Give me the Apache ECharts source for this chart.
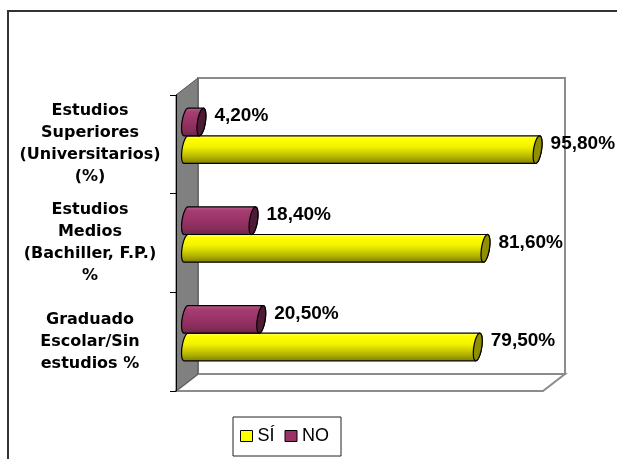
<!DOCTYPE html>
<html>
<head>
<meta charset="utf-8">
<script src="https://cdn.jsdelivr.net/npm/echarts@6/dist/echarts.min.js"></script>
<style>
    html, body { margin: 0; padding: 0; background: #fff; }
    #chart { width: 617px; height: 459px; }
</style>
</head>
<body>
<div id="chart"></div>
<script>
// categorías, de abajo hacia arriba
const categorias = [
    'Graduado\nEscolar/Sin\nestudios %',
    'Estudios\nMedios\n(Bachiller, F.P.)\n%',
    'Estudios\nSuperiores\n(Universitarios)\n(%)'
];
const valoresSi = [79.5, 81.6, 95.8];
const valoresNo = [20.5, 18.4, 4.2];
const nombresSeries = ['SÍ', 'NO'];

// plano frontal del gráfico y profundidad del efecto 3D (estilo Excel)
const PLOT = { left: 176, top: 95, width: 367, height: 296 };
const DEPTH = { x: 22, y: -17 };
const SHIFT = { x: 10, y: -8.5 };

const PALETA = {
    'SÍ': {
        base: '#ffff00',
        cap: '#8f8f00',
        body: [[0, '#ffff8c'], [0.12, '#ffff00'], [0.4, '#f2f200'], [0.55, '#d9d900'], [0.75, '#b5b500'], [1, '#7d7d00']]
    },
    'NO': {
        base: '#993366',
        cap: '#4f1a35',
        body: [[0, '#c0608f'], [0.15, '#a63d73'], [0.5, '#993366'], [0.8, '#842c58'], [1, '#6b2447']]
    }
};

function elipse(cx, cy, rx, ry, sk, t0, t1, n) {
    let pts = [];
    for (let i = 0; i <= n; i++) {
        let t = t0 + (t1 - t0) * i / n;
        pts.push([cx + rx * Math.cos(t) - sk * Math.sin(t), cy + ry * Math.sin(t)]);
    }
    return pts;
}

function etiqueta(v) {
    return v.toFixed(2).replace('.', ',') + '%';
}

function crearRender(nombre, arriba) {
    let pal = PALETA[nombre];
    return function (params, api) {
        let cat = api.value(0);
        let val = api.value(1);
        let p0 = api.coord([0, cat]);
        let p1 = api.coord([val, cat]);
        let banda = api.size([0, 1])[1];
        let h = banda * 0.28;
        let cy = p0[1] + SHIFT.y + (arriba ? -h / 2 : h / 2);
        let x0 = p0[0] + SHIFT.x;
        let x1 = p1[0] + SHIFT.x;
        let rx = 4, ry = h / 2, sk = 2;

        // cuerpo: mitad izquierda del extremo inicial + mitad derecha del final
        let cuerpo = elipse(x0, cy, rx, ry, sk, Math.PI / 2, Math.PI * 1.5, 16)
            .concat(elipse(x1, cy, rx, ry, sk, -Math.PI / 2, Math.PI / 2, 16));
        let tapa = elipse(x1, cy, rx, ry, sk, 0, Math.PI * 2, 32);

        return {
            type: 'group',
            children: [
                {
                    type: 'polygon',
                    shape: { points: cuerpo },
                    style: {
                        fill: new echarts.graphic.LinearGradient(0, 0, 0, 1,
                            pal.body.map(s => ({ offset: s[0], color: s[1] }))),
                        stroke: '#000',
                        lineWidth: 1.2
                    }
                },
                {
                    type: 'polygon',
                    shape: { points: tapa },
                    style: { fill: pal.cap, stroke: '#000', lineWidth: 1.2 }
                },
                {
                    type: 'text',
                    x: x1 + 13,
                    y: cy - 6,
                    style: {
                        text: etiqueta(val),
                        font: 'bold 19px "Liberation Sans", Arial, sans-serif',
                        fill: '#000',
                        align: 'left',
                        verticalAlign: 'middle'
                    }
                }
            ]
        };
    };
}

// paredes y suelo
const back = { x: PLOT.left + DEPTH.x, y: PLOT.top + DEPTH.y };
const fondo = [
    {
        type: 'rect',
        z: 0,
        shape: { x: 8, y: 11, width: 700, height: 500 },
        style: { fill: 'none', stroke: '#333', lineWidth: 2 }
    },
    {
        type: 'rect',
        z: 1,
        shape: { x: back.x, y: back.y, width: PLOT.width, height: PLOT.height },
        style: { fill: '#fff', stroke: '#8c8c8c', lineWidth: 2 }
    },
    {
        type: 'polygon',
        z: 1,
        shape: {
            points: [
                [PLOT.left, PLOT.top + PLOT.height],
                [back.x, back.y + PLOT.height],
                [back.x + PLOT.width, back.y + PLOT.height],
                [PLOT.left + PLOT.width, PLOT.top + PLOT.height]
            ]
        },
        style: { fill: '#fff', stroke: '#8c8c8c', lineWidth: 2 }
    },
    {
        type: 'polygon',
        z: 1,
        shape: {
            points: [
                [PLOT.left, PLOT.top],
                [back.x, back.y],
                [back.x, back.y + PLOT.height],
                [PLOT.left, PLOT.top + PLOT.height]
            ]
        },
        style: { fill: '#808080', stroke: '#555', lineWidth: 1 }
    }
];

let chart = echarts.init(document.getElementById('chart'), null, { renderer: 'canvas' });

chart.setOption({
    animation: false,
    backgroundColor: '#fff',
    graphic: { elements: fondo },
    grid: {
        left: PLOT.left,
        top: PLOT.top,
        width: PLOT.width,
        height: PLOT.height,
        outerBoundsMode: 'none'
    },
    legend: {
        data: nombresSeries.map(n => ({
            name: n,
            icon: 'rect',
            itemStyle: { color: PALETA[n].base, borderColor: '#000', borderWidth: 1 }
        })),
        left: 233,
        top: 417,
        itemWidth: 12,
        itemHeight: 11,
        itemGap: 10,
        padding: [10, 12, 11, 7],
        borderColor: '#222',
        borderWidth: 1,
        borderRadius: 0,
        backgroundColor: '#fff',
        textStyle: { fontFamily: '"Liberation Sans", Arial, sans-serif', fontSize: 18, color: '#000' }
    },
    xAxis: {
        type: 'value',
        min: 0,
        max: 100,
        show: false
    },
    yAxis: {
        type: 'category',
        data: categorias,
        z: 5,
        axisLine: { show: true, lineStyle: { color: '#000', width: 1 } },
        axisTick: { show: true, length: 6, lineStyle: { color: '#000' } },
        splitLine: { show: false },
        axisLabel: {
            margin: 86,
            align: 'center',
            fontFamily: '"DejaVu Sans", sans-serif',
            fontWeight: 'bold',
            fontSize: 16,
            lineHeight: 22,
            color: '#000'
        }
    },
    series: [
        {
            name: 'SÍ',
            type: 'custom',
            z: 10,
            itemStyle: { color: PALETA['SÍ'].base },
            encode: { x: 1, y: 0 },
            renderItem: crearRender('SÍ', false),
            data: valoresSi.map((v, i) => [i, v])
        },
        {
            name: 'NO',
            type: 'custom',
            z: 10,
            itemStyle: { color: PALETA['NO'].base },
            encode: { x: 1, y: 0 },
            renderItem: crearRender('NO', true),
            data: valoresNo.map((v, i) => [i, v])
        }
    ]
});
</script>
</body>
</html>
